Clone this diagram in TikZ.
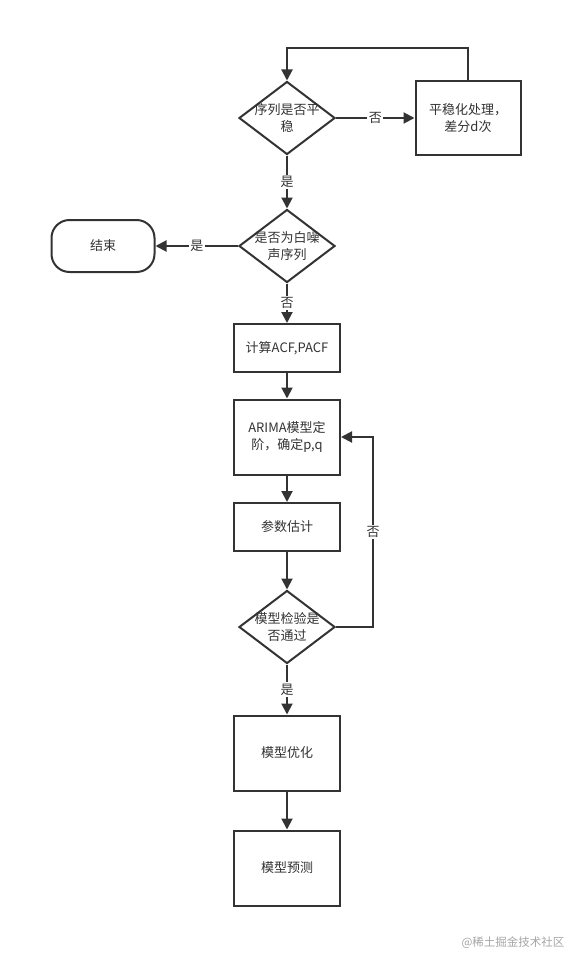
\documentclass[tikz,border=0pt]{standalone}
\usepackage{fontspec}
\setmainfont{Noto Sans CJK SC}
\usepackage{xcolor}
\usetikzlibrary{arrows.meta,shapes.geometric}
\definecolor{ink}{HTML}{333333}
\tikzset{
  ln/.style={draw=ink,line width=2pt},
  ar/.style={ln,-{Triangle[length=11pt,width=11pt]}},
  blk/.style={draw=ink,line width=2pt,fill=white,minimum width=106pt,inner sep=0pt,align=center,text=ink},
  dia/.style={diamond,draw=ink,line width=2pt,fill=white,minimum width=96pt,minimum height=73pt,inner sep=0pt},
  term/.style={draw=ink,line width=2pt,rounded corners=18pt,minimum width=103pt,minimum height=52pt,text=ink},
  txt/.style={align=center,text=ink,inner sep=0pt},
  lbl/.style={fill=white,inner sep=1.5pt,text=ink}
}

\begin{document}
\begin{tikzpicture}[x=1pt,y=-1pt,font=\fontsize{13}{16.5}\selectfont]
\useasboundingbox[fill=white] (0,0) rectangle (587,971);
% nodes
\node[dia,label={[txt]center:序列是否平\\稳}] (d1) at (287,118) {};
\node[blk,minimum height=73pt,minimum width=105pt] (pw) at (468,118) {平稳化处理，\\差分d次};
\node[dia,label={[txt]center:是否为白噪\\声序列}] (d2) at (287,246) {};
\node[term] (end) at (103,246) {结束};
\node[blk,minimum height=48pt] (acf) at (287,348) {计算ACF,PACF};
\node[blk,minimum height=75pt] (ord) at (287,437) {ARIMA模型定\\阶，确定p,q};
\node[blk,minimum height=48pt] (est) at (287,527) {参数估计};
\node[dia,label={[txt]center:模型检验是\\否通过}] (d3) at (287,627) {};
\node[blk,minimum height=75pt] (opt) at (287,753) {模型优化};
\node[blk,minimum height=75pt] (pre) at (287,868) {模型预测};
% connectors
\draw[ar] (d1.east) -- node[lbl]{否} (pw.west);
\draw[ar] (pw.north) -- ++(0,-32) -| (d1.north);
\draw[ar] (d1.south) -- node[lbl]{是} (d2.north);
\draw[ar] (d2.west) -- node[lbl]{是} (end.east);
\draw[ar] (d2.south) -- node[lbl]{否} (acf.north);
\draw[ar] (acf) -- (ord);
\draw[ar] (ord) -- (est);
\draw[ar] (est) -- (d3.north);
\draw[ar] (d3.east) -- ++(37,0) |- node[pos=0.25,lbl]{否} (ord.east);
\draw[ar] (d3.south) -- node[lbl]{是} (opt.north);
\draw[ar] (opt) -- (pre);
\node[text=gray!70,font=\fontsize{11.5}{14}\selectfont] (wm) at (513,943) {@稀土掘金技术社区};
\end{tikzpicture}
\end{document}
